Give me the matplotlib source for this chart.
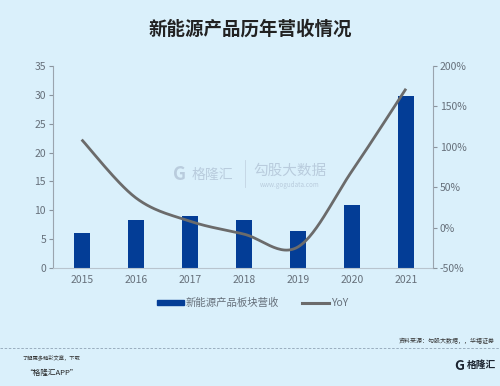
import matplotlib
matplotlib.use("Agg")
import matplotlib.pyplot as plt
import numpy as np
from matplotlib.lines import Line2D
from matplotlib.patches import Patch

plt.rcParams['font.family'] = ['Noto Sans CJK SC', 'DejaVu Sans']

years = ['2015', '2016', '2017', '2018', '2019', '2020', '2021']
revenue = [6.1, 8.4, 9.1, 8.4, 6.5, 11.0, 29.9]
yoy = [109, 37, 8, -8, -24, 70, 172]
left_ticks = [0, 5, 10, 15, 20, 25, 30, 35]
right_ticks = [-50, 0, 50, 100, 150, 200]

BG = '#DAF0FB'
BAR = '#033D96'
LINE = '#6B6B6B'
TXT = '#66707A'

fig = plt.figure(figsize=(5.0, 3.86), dpi=100, facecolor=BG)
ax = fig.add_axes([0.106, 0.3057, 0.76, 0.523])
ax.set_facecolor(BG)
x = np.arange(len(years))
ax.bar(x, revenue, width=0.3, color=BAR, zorder=2)
ax.set_xlim(-0.53, 6.5)
ax.set_ylim(0, 35)
ax.set_yticks(left_ticks)
ax.set_xticks(x)
ax.set_xticklabels(years)
for s in ['top', 'right']:
    ax.spines[s].set_visible(False)
ax.spines['left'].set_color('#9AA4AE')
ax.spines['bottom'].set_color('#B8C4CE')
ax.tick_params(axis='y', colors='#8A949E', labelcolor=TXT, labelsize=7.5, length=3, width=0.8, pad=2)
ax.tick_params(axis='x', length=0, labelcolor=TXT, labelsize=7.5, pad=5)

ax2 = ax.twinx()
ax2.set_ylim(-50, 200)
ax2.set_yticks(right_ticks)
ax2.set_yticklabels([f'{t}%' for t in right_ticks])
for s in ['top', 'left', 'bottom']:
    ax2.spines[s].set_visible(False)
ax2.spines['right'].set_color('#9AA4AE')
ax2.tick_params(axis='y', colors='#8A949E', labelcolor=TXT, labelsize=7.5, length=3, width=0.8, pad=2)

# Excel-style smoothed line through data points
px = x.astype(float)
py = np.array(yoy, dtype=float)
xs, ys = [], []
n = len(px)
for i in range(n - 1):
    p0x, p0y = (px[i - 1], py[i - 1]) if i > 0 else (px[i], py[i])
    p3x, p3y = (px[i + 2], py[i + 2]) if i + 2 < n else (px[i + 1], py[i + 1])
    c1x = px[i] + (px[i + 1] - p0x) / 6
    c1y = py[i] + (py[i + 1] - p0y) / 6
    c2x = px[i + 1] - (p3x - px[i]) / 6
    c2y = py[i + 1] - (p3y - py[i]) / 6
    t = np.linspace(0, 1, 30)
    bx = (1 - t) ** 3 * px[i] + 3 * (1 - t) ** 2 * t * c1x + 3 * (1 - t) * t ** 2 * c2x + t ** 3 * px[i + 1]
    by = (1 - t) ** 3 * py[i] + 3 * (1 - t) ** 2 * t * c1y + 3 * (1 - t) * t ** 2 * c2y + t ** 3 * py[i + 1]
    xs.extend(bx)
    ys.extend(by)
ax2.plot(xs, ys, color=LINE, lw=2.0, solid_capstyle='butt', zorder=3)

# watermark
fig.text(0.36, 0.548, 'G', fontsize=13, color='#B9CCDD', fontweight='bold', ha='center', va='center')
fig.text(0.425, 0.548, '格隆汇', fontsize=10, color='#B9CCDD', ha='center', va='center')
fig.add_artist(Line2D([0.49, 0.49], [0.515, 0.585], color='#C3D4E2', lw=0.6))
fig.text(0.58, 0.558, '勾股大数据', fontsize=10.5, color='#B9CCDD', ha='center', va='center')
fig.text(0.58, 0.52, 'www.gogudata.com', fontsize=4.5, color='#B9CCDD', ha='center', va='center')

# title
fig.text(0.5, 0.925, '新能源产品历年营收情况', fontsize=13.3, color='#222222', ha='center', va='center', fontweight='bold')

# legend
handles = [Patch(facecolor=BAR, edgecolor=BAR), Line2D([0], [0], color=LINE, lw=2.2)]
leg = fig.legend(handles, ['新能源产品板块营收', 'YoY'], loc='center', bbox_to_anchor=(0.505, 0.215),
                 ncol=2, frameon=False, fontsize=7.5, handlelength=2.6, handleheight=0.35,
                 handletextpad=0.2, columnspacing=2.2)
for t in leg.get_texts():
    t.set_color(TXT)

# footer
fig.text(0.99, 0.118, '资料来源：勾股大数据，，华福证券', fontsize=4.3, color='#333333', ha='right', va='center')
fig.add_artist(Line2D([0.0, 1.0], [0.098, 0.098], color='#8FA3B5', lw=0.6, ls=(0, (3, 2))))
fig.text(0.045, 0.072, '了解更多精彩文章，下载', fontsize=3.8, color='#333333', ha='left', va='center')
fig.text(0.05, 0.033, '“格隆汇APP”', fontsize=5.5, color='#222222', ha='left', va='center', style='italic')
fig.text(0.918, 0.052, 'G', fontsize=10, color='#1B2430', fontweight='bold', ha='center', va='center')
fig.text(0.962, 0.055, '格隆汇', fontsize=7, color='#1B2430', fontweight='bold', ha='center', va='center')

fig.savefig('out.png', dpi=100, facecolor=BG)
